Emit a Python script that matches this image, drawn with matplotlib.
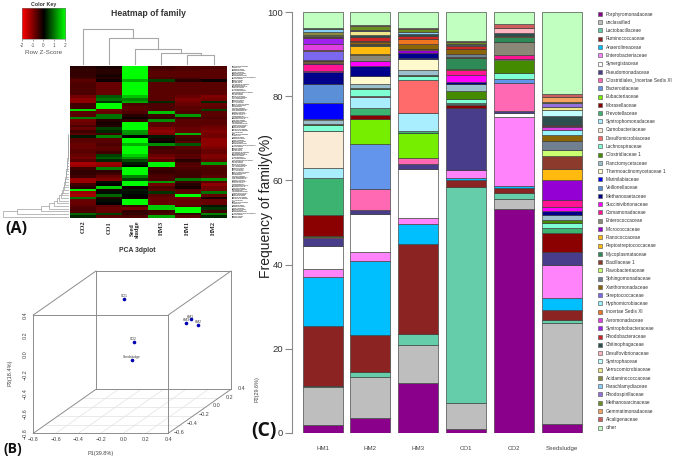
import numpy as np
import matplotlib
matplotlib.use('Agg')
import matplotlib.pyplot as plt
from matplotlib.colors import LinearSegmentedColormap
from matplotlib.lines import Line2D

W, H = 675, 459
SANS = 'Liberation Sans'

# ---- stacked bars (C)
samples = ['HM1', 'HM2', 'HM3', 'CO1', 'CO2', 'Seedsludge']
families = ['Porphyromonadaceae', 'unclassified', 'Lactobacillaceae', 'Ruminococcaceae', 'Anaerolineaceae',
            'Enterobacteriaceae', 'Synergistaceae', 'Pseudomonadaceae', 'Clostridiales_Incertae Sedis XI',
            'Bacteroidaceae', 'Eubacteriaceae', 'Moraxellaceae', 'Prevotellaceae', 'Syntrophomonadaceae',
            'Carnobacteriaceae', 'Desulfomicrobiaceae', 'Lachnospiraceae', 'Clostridiaceae 1',
            'Planctomycetaceae', 'Thermoactinomycetaceae 1', 'Marinilabiaceae', 'Veillonellaceae',
            'Methanosaetaceae', 'Succinivibrionaceae', 'Comamonadaceae', 'Enterococcaceae', 'Micrococcaceae',
            'Planococcaceae', 'Peptostreptococcaceae', 'Mycoplasmataceae', 'Bacillaceae 1', 'Flavobacteriaceae',
            'Sphingomonadaceae', 'Xanthomonadaceae', 'Streptococcaceae', 'Hyphomicrobiaceae', 'Incertae Sedis XI',
            'Aeromonadaceae', 'Syntrophobacteraceae', 'Rhodobacteraceae', 'Chitinophagaceae',
            'Desulfovibrionaceae', 'Syntrophaceae', 'Verrucomicrobiaceae', 'Acidaminococcaceae',
            'Parachlamydiaceae', 'Rhodospirillaceae', 'Methanosarcinaceae', 'Gemmatimonadaceae',
            'Alcaligenaceae', 'other']
family_colors = ['#8B008B', '#BEBEBE', '#66CDAA', '#8B2323', '#00BFFF', '#FF83FA', '#FFFFFF', '#483D8B',
                 '#FF69B4', '#6495ED', '#76EE00', '#8B0000', '#3CB371', '#A8EEFF', '#FAEBD7', '#FF6A6A',
                 '#7FFFD4', '#458B00', '#9AC0CD', '#FFFACD', '#0000FF', '#5B8FD8', '#00008B', '#FF00FF',
                 '#FF1493', '#8B8878', '#9400D3', '#FFB90F', '#FFB90F', '#2E8B57', '#8B3A2B', '#CAFF70',
                 '#708090', '#8B6508', '#7B68EE', '#98F5FF', '#EE7621', '#E040E0', '#A020F0', '#CD2626',
                 '#2F4F4F', '#FFB6C1', '#C1FFFF', '#F0E68C', '#8B8B40', '#87CEFA', '#9370DB', '#6B8E23',
                 '#F4A460', '#CD5C5C', '#C1FFC1']

hm1 = [2.0, 8.9, 0.3, 14.2, 11.6, 2.0, 5.4, 1.8, 0.3, 0.1, 0.3, 5.0, 8.6, 2.4, 8.8, 0.1, 1.4, 0.3, 0.9, 0.1,
       3.8, 4.5, 2.9, 0.2, 1.7, 0.1, 0.1, 0.3, 0.2, 0.1, 0.3, 0, 0, 0, 2.1, 0, 0.1, 1.6, 1.4, 0.1, 0.3, 0,
       0.1, 0.2, 0.7, 0.6, 0, 0.3, 0, 0, 3.8]
hm2 = [3.6, 9.6, 1.2, 8.8, 17.6, 2.1, 9.2, 0.8, 5.1, 10.7, 5.9, 1.0, 1.6, 2.7, 0, 0.1, 1.6, 0.4, 0.9, 1.9,
       0.1, 0, 2.3, 1.1, 0.1, 1.4, 0.1, 0.2, 1.9, 0.1, 0.2, 0, 0, 0.5, 0.1, 0, 0.2, 0, 0.1, 0.8, 0.5, 0,
       0, 1.0, 0.1, 0, 0.1, 1.0, 0, 0.1, 3.2]
hm3 = [11.9, 8.9, 2.7, 21.4, 4.7, 1.5, 11.7, 1.0, 1.6, 0, 5.8, 0.1, 0.4, 4.4, 0, 7.7, 1.0, 0.2, 1.2, 2.7,
       0.1, 0, 1.2, 0.1, 0, 0, 0.7, 0, 0.1, 0.1, 0.1, 0, 0, 1.0, 0, 0, 1.3, 0, 0, 0.7, 0.4, 0, 0, 0.1, 0,
       0.4, 0, 0.8, 0, 0.1, 4.0]
co1 = [0.9, 6.2, 51.4, 1.5, 0.6, 1.9, 0, 14.6, 0, 0, 0, 0.9, 0.2, 0.1, 0, 0, 1.0, 2.0, 1.6, 0.1, 0, 0, 0.3,
       1.8, 1.1, 0, 0.1, 0, 0.1, 2.6, 0.3, 0, 0.7, 1.1, 0.1, 0, 0, 0, 0, 0.7, 0.1, 0, 0, 0, 0.1, 0, 0.4, 0.4,
       0, 0.1, 7.0]
co2 = [53.3, 2.3, 1.5, 1.0, 0.6, 16.3, 0.9, 0.6, 6.7, 1.0, 0, 0, 0, 0, 0, 0, 1.2, 3.3, 0, 0.1, 0, 0, 0.1, 0,
       0.8, 3.1, 0, 0, 0.1, 1.1, 0, 0, 0, 0, 0, 0, 0.2, 0, 0, 0, 0.9, 1.2, 0, 0, 0, 0, 0, 0, 0, 0.9, 2.8]
seed = [2.1, 24.1, 0.6, 2.5, 2.8, 7.7, 0, 3.1, 0, 0, 0, 4.7, 1.1, 0, 0, 0, 1.2, 0.6, 1.4, 0, 0, 0, 0.8, 1.0,
        1.6, 0, 4.7, 0, 2.7, 0, 3.0, 1.6, 2.0, 1.4, 0, 1.3, 0, 0.8, 0.1, 0.3, 2.0, 0, 1.6, 0.6, 0, 0, 1.1, 0.2,
        1.2, 0.7, 19.4]

# ---- heatmap (A), one list per column, top row first
heat_cols = ['CO2', 'CO1', 'Seed\nsludge', 'HM3', 'HM1', 'HM2']
heat_co2 = [-.3, -.4, -.4, -.4, -.5, -.7, -.6, -.6, -.6, -.6, -.6, -.9, -1.1, -1.1, -.5, -.5, 1.7, -.7, -.7, 1.0,
            -.9, -.8, -.6, -.8, -.5, -.7, .2, -.7, -.7, -.8, -.8, -.7, -.7, -.8, -.9, -.7, -1.3, -1.2, -.5, -.4,
            -.4, -.5, -1.2, -1.2, -.5, -.3, 1.8, -1.2, -1.3, .9, -.8, -.8, -.7, -.6, -.6, .8, .3]
heat_co1 = [-.2, -.3, -.3, -.2, -.3, -.1, -.8, -.8, -.8, -.8, -.8, .7, .9, .4, 2, 2, -.9, -.8, .9, .9, -.3, -.2,
            -.3, .5, .3, -.5, 1.0, -.7, -.7, -.6, -.7, -.7, -.5, .5, .7, .3, -1.2, -1.1, 1.0, -.4, -.5, -.8,
            -1.0, .1, 0, 1.6, -.2, .1, .8, -.3, .1, 0, -.7, -.8, -.8, .5, -.7]
heat_seed = [2, 2, 2, 2, 2, 1.4, 2, 2, 2, 2, 2, 1.5, 1.0, 1.3, -.6, -.7, -.7, -.6, -.3, -.1, -.4, 2, 2, 2, 1.2,
             1.1, 0, 2, 2, 1.4, 2, 2, 2, 1.6, 1.2, .6, .2, 0, 2, 2, 2, 1.0, .5, 2, 2, -.1, .2, .1, 0, -.1, 2, 2,
             -.5, -.9, -.4, -.4, -.6]
heat_hm3 = [-.5, -.6, -.7, -.7, -.6, .5, -.7, -.7, -.7, -.7, -.7, -.7, -.7, .3, -.6, -.6, -.6, 1.5, -.5, -.4, 1.1,
            -.7, -.7, -1.0, -1.1, -1.0, .2, -.2, 0, 1.1, -.5, -.6, -.6, -.8, -1.0, -.7, 1.9, 1.9, -.5, -.4, -.5,
            -.6, -.6, 1.2, -.9, -.6, -.7, .4, -.7, -.8, -.8, -.8, 1.6, 1.6, -.5, -.6, 1.3]
heat_hm1 = [-.6, -.6, -.7, -.7, -.6, -.3, -.7, -.7, -.7, -.7, -.7, -.8, -1.0, -.9, -.8, -.7, -.7, -.6, 1.2, -.5,
            -.7, -.7, -.7, -.8, -.8, 1.4, -.6, -.5, -.7, .7, -.7, -.6, -.6, -.7, -.7, -.3, -.6, -.7, -.6, -.5,
            -.5, -.5, .9, -.5, -.3, -.2, -.7, -.7, 2, -.9, -.8, -.8, -.7, 2, 2, -.4, -.7]
heat_hm2 = [-.6, -.7, -.7, -.7, -.7, -.1, -.7, -.7, -.7, -.7, -.7, -1.0, -.9, .3, -.8, -.7, .5, -.7, -.7, -.6, -.7,
            -.7, -.8, -.9, -1.0, -.9, -.9, -1.1, -1.1, -1.1, -1.0, -.8, -.8, -1.0, -1.0, -.8, 1.2, -.7, -.6, -.6,
            -.6, -.7, 1.1, -.7, -1.1, -.9, -.9, .9, -.8, -.2, -.8, -.8, .2, .4, -.5, 1.0, .3]
# column tree: (left node, right node, height), leaves are 0-5, new nodes 6, 7, ...
col_tree = [(4, 5, 10), (3, 6, 11.7), (2, 7, 15.7), (1, 8, 27.3), (0, 9, 35.7)]
# row tree: bottom row first, height at which each bottom row joins the rest
row_heights = [66, 52, 28, 20, 15, 12, 10, 8.5, 7, 6, 5.5, 5, 4.5, 4, 3.6, 3.2, 2.8, 2.5, 2.2, 2, 1.8, 1.6, 1.4,
               1.3, 1.2, 1.1, 1, .9, .8, .8, .7, .7, .6, .6, .5, .5, .5, .4, .4, .4, .3, .3, .3, .3, .2, .2, .2,
               .2, .2, .1, .1, .1, .1, .1, .1, .1]

# ---- PCA (B)
pca_names = ['CO1', 'HM1', 'HM3', 'HM2', 'CO2', 'Seedsludge']
pca_p1 = [-0.381, 0.097, 0.059, 0.162, -0.242, -0.146]
pca_p2 = [0.1, 0.3, 0.3, 0.3, 0.0, -0.2]
pca_p3 = [0.25, -0.046, -0.079, -0.103, -0.142, -0.235]
p1_ticks = [-0.8, -0.6, -0.4, -0.2, 0.0, 0.2, 0.4]
p2_ticks = [-0.6, -0.4, -0.2, 0.0, 0.2, 0.4]
p3_ticks = [-0.8, -0.6, -0.4, -0.2, 0.0, 0.2, 0.4]


def px_axes(x0, y0, x1, y1):
    return fig.add_axes([x0 / W, 1 - y1 / H, (x1 - x0) / W, (y1 - y0) / H])


def project(p1, p2, p3):
    # oblique projection like scatterplot3d, result in figure pixels
    x = 33.3 + (p1 + 0.8) / 1.2 * 135 + (p2 + 0.6) * 62.7
    y = 433.3 - (p3 + 0.8) / 1.2 * 118.3 - (p2 + 0.6) * 44
    return x, y


fig = plt.figure(figsize=(W / 100, H / 100), dpi=100)
plt.rcParams['font.family'] = SANS
red_black_green = LinearSegmentedColormap.from_list('rbg', ['#FF0000', '#000000', '#00FF00'])

# ---------------- C
ax = px_axes(292, 12, 592, 433)
ax.set_xlim(-0.637, 5.626)
ax.set_ylim(0, 100)
table = np.array([hm1, hm2, hm3, co1, co2, seed])
xs = np.arange(len(samples))
bottom = np.zeros(len(samples))
handles = []
for k, name in enumerate(families):
    vals = table[:, k]
    keep = vals > 0
    ax.bar(xs[keep], vals[keep], 0.835, bottom=bottom[keep], color=family_colors[k],
           edgecolor='#3a3a3a', linewidth=0.45)
    bottom += vals
    handles.append(Line2D([], [], linestyle='none', marker='s', markersize=3.2, markerfacecolor=family_colors[k],
                          markeredgecolor='#666666', markeredgewidth=0.5, label=name))
for s in ['top', 'right', 'bottom']:
    ax.spines[s].set_visible(False)
ax.spines['left'].set_color('#8a8a8a')
ax.spines['left'].set_linewidth(0.8)
ax.set_yticks(range(0, 101, 20))
ax.tick_params(axis='y', length=5, width=0.8, color='#8a8a8a', pad=1.5, labelsize=6.8, labelcolor='#333333')
ax.set_xticks(xs)
ax.set_xticklabels(samples, fontsize=4.4, color='#444444')
ax.tick_params(axis='x', length=0, pad=9.5)
fig.text(266 / W, 1 - 206 / H, 'Frequency of family(%)', rotation=90, ha='center', va='center', fontsize=10,
         color='#222222')
leg = ax.legend(handles=handles, loc='upper left', bbox_to_anchor=(597.7 / W, 1 - 11.6 / H),
                bbox_transform=fig.transFigure, frameon=False, borderpad=0, borderaxespad=0, handlelength=0.8,
                handletextpad=0.95, labelspacing=0.693, prop={'family': SANS, 'size': 3.4})
for t in leg.get_texts():
    t.set_color('#333333')

# ---------------- A
ax_h = px_axes(69.7, 66, 226.7, 218)
heat = np.array([heat_co2, heat_co1, heat_seed, heat_hm3, heat_hm1, heat_hm2]).T
n_rows = heat.shape[0]
ax_h.imshow(heat, cmap=red_black_green, vmin=-2, vmax=2, aspect='auto', interpolation='nearest')
for s in ax_h.spines.values():
    s.set_visible(False)
ax_h.set_xticks(range(6))
ax_h.set_xticklabels(heat_cols, rotation=90, family='Liberation Serif', fontsize=4.6, fontweight='bold',
                     color='#222222', linespacing=1.0)
ax_h.yaxis.tick_right()
label_pos = np.arange(-0.25, n_rows, 0.5)
ax_h.set_yticks(label_pos)
ax_h.set_yticklabels((families * 3)[:len(label_pos)], fontsize=1.2, color='#444444', fontweight='bold')
ax_h.set_ylim(n_rows - 0.5, -0.5)
ax_h.tick_params(length=0, pad=3.5)
ax_h.tick_params(axis='x', pad=2)

# column dendrogram
ax_dc = px_axes(69.7, 26, 226.7, 65)
ax_dc.set_xlim(-0.5, 5.5)
ax_dc.set_ylim(0, 39)
ax_dc.axis('off')
pos = {i: (float(i), 0.0) for i in range(6)}
for n, (a, b, h) in enumerate(col_tree):
    ax_dc.plot([pos[a][0], pos[a][0], pos[b][0], pos[b][0]], [pos[a][1], h, h, pos[b][1]],
               color='#a8a8a8', lw=0.8)
    pos[6 + n] = ((pos[a][0] + pos[b][0]) / 2, h)

# row dendrogram
ax_dr = px_axes(0, 66, 69.2, 218)
ax_dr.set_xlim(69.2, 0)
ax_dr.set_ylim(n_rows - 0.5, -0.5)
ax_dr.axis('off')
node_y, node_h = 0.0, 0.0
for k in range(n_rows - 2, -1, -1):
    # row n_rows-1-k joins the group formed by the rows above it
    leaf_y = n_rows - 1 - k
    h = row_heights[k]
    ax_dr.plot([node_h, h, h, 0], [node_y, node_y, leaf_y, leaf_y], color='#a0a0a0', lw=0.5)
    node_y, node_h = (node_y + leaf_y) / 2, h

# colour key
ax_k = px_axes(21.7, 8.3, 65, 39.3)
ax_k.imshow(np.linspace(-2, 2, 64)[None, :], cmap=red_black_green, aspect='auto', extent=[-2, 2, 0, 1],
            vmin=-2, vmax=2)
ax_k.set_yticks([])
ax_k.set_xticks([-2, -1, 0, 1, 2])
ax_k.set_xticklabels(['-2', '-1', '0', '1', '2'], fontsize=3.4, color='#555555')
ax_k.tick_params(length=1.5, width=0.4, pad=1, color='#555555')
ax_k.set_xlabel('Row Z-Score', fontsize=4.6, color='#555555', labelpad=1.5)
ax_k.set_title('Color Key', fontsize=3.8, fontweight='bold', color='#333333', pad=1.5)
for s in ax_k.spines.values():
    s.set_linewidth(0.4)
    s.set_color('#777777')

fig.text(148 / W, 1 - 13.5 / H, 'Heatmap of family', ha='center', va='center', fontsize=6.2, fontweight='bold',
         color='#333333')
fig.text(5 / W, 1 - 229 / H, '(A)', ha='left', va='center', fontsize=11.5, fontweight='bold',
         family='Open Sans', color='#111111')

# ---------------- B
ax_p = px_axes(0, 240, 260, 459)
ax_p.set_xlim(0, 260)
ax_p.set_ylim(459, 240)
ax_p.axis('off')
grey = '#8c8c8c'
for v in p1_ticks[1:-1]:
    xa, ya = project(v, -0.6, -0.8)
    xb, yb = project(v, 0.4, -0.8)
    ax_p.plot([xa, xb], [ya, yb], color='#e2e2e2', lw=0.5)
for v in p2_ticks[1:-1]:
    xa, ya = project(-0.8, v, -0.8)
    xb, yb = project(0.4, v, -0.8)
    ax_p.plot([xa, xb], [ya, yb], color='#e2e2e2', lw=0.5)
box_edges = [((-0.8, -0.6, -0.8), (0.4, -0.6, -0.8)), ((-0.8, -0.6, 0.4), (0.4, -0.6, 0.4)),
             ((-0.8, -0.6, -0.8), (-0.8, -0.6, 0.4)), ((0.4, -0.6, -0.8), (0.4, -0.6, 0.4)),
             ((-0.8, 0.4, -0.8), (0.4, 0.4, -0.8)), ((-0.8, 0.4, 0.4), (0.4, 0.4, 0.4)),
             ((-0.8, 0.4, -0.8), (-0.8, 0.4, 0.4)), ((0.4, 0.4, -0.8), (0.4, 0.4, 0.4)),
             ((-0.8, -0.6, -0.8), (-0.8, 0.4, -0.8)), ((0.4, -0.6, -0.8), (0.4, 0.4, -0.8)),
             ((-0.8, -0.6, 0.4), (-0.8, 0.4, 0.4)), ((0.4, -0.6, 0.4), (0.4, 0.4, 0.4))]
for a, b in box_edges:
    xa, ya = project(*a)
    xb, yb = project(*b)
    ax_p.plot([xa, xb], [ya, yb], color=grey, lw=0.7)
for v in p1_ticks:
    xa, ya = project(v, -0.6, -0.8)
    ax_p.text(xa, ya + 6.5, str(v).replace('-', '\u2212'), ha='center', va='center', fontsize=3.9, color='#444444')
for v in p3_ticks:
    xa, ya = project(-0.8, -0.6, v)
    ax_p.text(xa - 8, ya, str(v).replace('-', '\u2212'), ha='center', va='center', rotation=90, fontsize=3.9,
              color='#444444')
for v in p2_ticks:
    xa, ya = project(0.4, v, -0.8)
    ax_p.text(xa + 11, ya - 1, str(v).replace('-', '\u2212'), ha='center', va='center', fontsize=3.9, color='#444444')
for n, p1, p2, p3 in zip(pca_names, pca_p1, pca_p2, pca_p3):
    px, py = project(p1, p2, p3)
    ax_p.plot([px], [py], 'o', color='#0000B0', ms=2.6, mew=0)
    ax_p.text(px, py - 2.6, n, ha='center', va='center', fontsize=2.4, color='#333333')
ax_p.text(137, 250.7, 'PCA 3dplot', ha='center', va='center', fontsize=4.9, fontweight='bold', color='#333333')
ax_p.text(101, 453.5, 'P1(39.8%)', ha='center', va='center', fontsize=4, color='#444444')
ax_p.text(10, 373, 'P3(18.4%)', ha='center', va='center', rotation=90, fontsize=4, color='#444444')
ax_p.text(257, 389, 'P2(29.6%)', ha='center', va='center', rotation=90, fontsize=4, color='#444444')
ax_p.text(3, 449, '(B)', ha='left', va='center', fontsize=10, fontweight='bold', family='Open Sans', color='#111111')
fig.text(251 / W, 1 - 431 / H, '(C)', ha='left', va='center', fontsize=14, fontweight='bold',
         family='Open Sans', color='#111111')

fig.savefig('out.png', dpi=100)
